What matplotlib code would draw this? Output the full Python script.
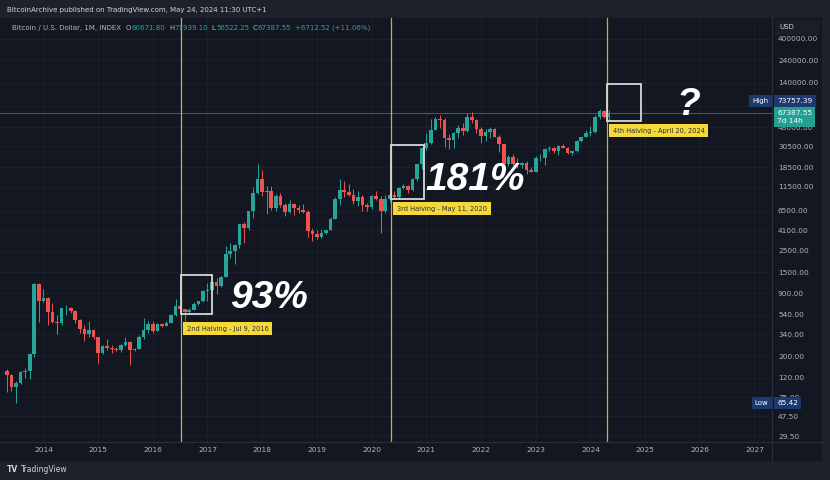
import matplotlib
matplotlib.use("Agg")
import matplotlib.pyplot as plt
import pandas as pd
from matplotlib.patches import Rectangle
from matplotlib.ticker import NullLocator
import matplotlib.transforms as mtransforms

# monthly BTC/USD candles, May 2013 .. May 2024
first_month = "2013-05-01"
opens = [
    139, 129, 97, 106, 136, 141, 211, 1130,
    754, 800, 573, 457, 448, 628, 640, 586, 478, 387, 338, 378,
    320, 217, 254, 244, 236, 230, 263, 284, 230, 236, 314, 378,
    430, 368, 437, 416, 448, 531, 673, 624, 573, 609, 700, 742,
    963, 970, 1190, 1080, 1348, 2300, 2480, 2875, 4700, 4340, 6450, 9950,
    13850, 10200, 10330, 6930, 9240, 7500, 6390, 7730, 7030, 6630, 6370, 4040,
    3740, 3440, 3820, 4100, 5320, 8570, 10820, 10080, 9590, 8290, 9150, 7540,
    7190, 9350, 8540, 6410, 8620, 9450, 9140, 11350, 11650, 10780, 13800, 19700,
    28990, 33100, 45200, 58800, 57700, 37300, 35040, 41460, 47100, 43800, 61300, 57000,
    46200, 38500, 43200, 45540, 37650, 31800, 19930, 23300, 20050, 19420, 20500, 17170,
    16540, 23130, 23150, 28470, 29250, 27220, 30480, 29230, 25930, 26970, 34660, 37720,
    42280, 42580, 61180, 71330, 60671.80,
]
highs = [
    147, 130, 111, 142, 152, 215, 1163, 1163,
    1000, 830, 710, 542, 630, 680, 650, 600, 490, 420, 460, 385,
    320, 265, 300, 265, 250, 270, 320, 285, 245, 330, 500, 465,
    460, 445, 440, 470, 550, 780, 700, 625, 630, 740, 755, 980,
    1160, 1200, 1300, 1350, 2770, 3000, 2920, 4740, 5000, 6470, 11400, 19700,
    17200, 11780, 11700, 9760, 10000, 7770, 8500, 7760, 7410, 7680, 6560, 4300,
    4100, 4200, 4140, 5600, 9100, 13880, 13200, 12320, 10950, 10540, 9510, 7750,
    9580, 10500, 9190, 9470, 10080, 10390, 11450, 12480, 12080, 14100, 19480, 29300,
    41950, 58350, 61780, 64860, 59600, 41300, 42400, 50500, 52920, 67000, 69000, 59000,
    47990, 45800, 48200, 47450, 40000, 31980, 24700, 25200, 22800, 21000, 21450, 18390,
    23950, 25250, 29200, 31000, 29850, 31400, 31800, 30200, 27500, 35200, 38400, 44700,
    48970, 64000, 73757.39, 72800, 71939.10,
]
lows = [
    85, 88, 65.42, 102, 120, 115, 196, 453,
    740, 420, 440, 340, 420, 540, 565, 445, 350, 285, 320, 300,
    170, 210, 235, 215, 228, 220, 255, 162, 226, 236, 300, 350,
    350, 365, 405, 410, 440, 520, 600, 470, 565, 605, 690, 740,
    750, 920, 890, 1060, 1340, 2100, 1830, 2670, 2980, 4110, 5500, 9700,
    9200, 6000, 6600, 6430, 7050, 5750, 6100, 5880, 6110, 6200, 3480, 3120,
    3350, 3370, 3730, 4080, 5320, 7440, 9070, 9330, 7710, 7300, 6530, 6430,
    6850, 8450, 3850, 6150, 8100, 8850, 8900, 10980, 9880, 10370, 13210, 17570,
    28130, 32300, 45000, 47000, 30000, 28800, 29300, 37330, 39600, 43300, 53300, 42000,
    32950, 34300, 37200, 37600, 26700, 17600, 18780, 19600, 18150, 18200, 15500, 16300,
    16500, 21400, 19550, 26950, 25800, 24800, 28900, 25400, 24920, 26560, 34100, 37600,
    38550, 41900, 59100, 59600, 56522.25,
]
closes = [
    129, 97, 106, 136, 141, 211, 1130, 754,
    800, 573, 457, 448, 628, 640, 586, 478, 387, 338, 378, 320,
    217, 254, 244, 236, 230, 263, 284, 230, 236, 314, 378, 430,
    368, 437, 416, 448, 531, 673, 624, 573, 609, 700, 742, 963,
    970, 1190, 1080, 1348, 2300, 2480, 2875, 4700, 4340, 6450, 9950, 13850,
    10200, 10330, 6930, 9240, 7500, 6390, 7730, 7030, 6630, 6370, 4040, 3740,
    3440, 3820, 4100, 5320, 8570, 10820, 10080, 9590, 8290, 9150, 7540, 7190,
    9350, 8540, 6410, 8620, 9450, 9140, 11350, 11650, 10780, 13800, 19700, 28990,
    33100, 45200, 58800, 57700, 37300, 35040, 41460, 47100, 43800, 61300, 57000, 46200,
    38500, 43200, 45540, 37650, 31800, 19930, 23300, 20050, 19420, 20500, 17170, 16540,
    23130, 23150, 28470, 29250, 27220, 30480, 29230, 25930, 26970, 34660, 37720, 42280,
    42580, 61180, 71330, 60675.03, 67387.55,
]

halving_dates = ["2016-07-09", "2020-05-11", "2024-04-20"]
halving_labels = ["2nd Halving - Jul 9, 2016", "3rd Halving - May 11, 2020",
                  "4th Halving - April 20, 2024"]
# white boxes after each halving: width (years), price range
box_widths = [0.57, 0.60, 0.62]
box_lows = [550, 8610, 55700]
box_highs = [1400, 31300, 135000]
label_drop = [-8.4, -4.8, -4.8]   # pt below the box

gain_texts = ["93%", "181%", "?"]
gain_x = [2017.41, 2020.975, 2025.58]
gain_y = [634, 10690, 64300]

price_ticks = [400000, 240000, 140000, 80000, 48000, 30500, 18500, 11500, 6500,
               4100, 2500, 1500, 900, 540, 340, 200, 120, 75, 47.5, 29.5]
years = list(range(2014, 2028))

UP = "#26a69a"
DOWN = "#ef5350"
BG = "#131722"
OUTER = "#1e212a"
TXT = "#b2b5be"
NAVY = "#1c3a70"
YEL = "#f5d83a"

dates = pd.date_range(first_month, periods=len(closes), freq="MS")
t = dates.year + (dates.month - 1) / 12


def frac_year(s):
    d = pd.Timestamp(s)
    return d.year + (d.dayofyear - 1) / 366


fig = plt.figure(figsize=(8.3, 4.8), dpi=100, facecolor=OUTER)
W, H = 830, 480
ax = fig.add_axes([0, 38 / H, 772 / W, 424 / H], facecolor=BG)

# axis strips
fig.patches.append(Rectangle((772 / W, 19 / H), 50 / W, 443 / H, transform=fig.transFigure,
                             fc=BG, ec="none", zorder=-1))
fig.patches.append(Rectangle((0, 19 / H), 822 / W, 19 / H, transform=fig.transFigure,
                             fc=BG, ec="none", zorder=-1))
fig.add_artist(plt.Line2D([772 / W, 772 / W], [19 / H, 462 / H], color="#2a2e39", lw=0.8))
fig.add_artist(plt.Line2D([0, 822 / W], [38 / H, 38 / H], color="#2a2e39", lw=0.8))

ax.set_yscale("log")
ax.set_xlim(2013.207, 2027.32)
ax.set_ylim(25.7, 656000)

colors = [UP if c >= o else DOWN for o, c in zip(opens, closes)]
body_lo = [min(o, c) for o, c in zip(opens, closes)]
body_h = [max(abs(c - o), 0.004 * o) for o, c in zip(opens, closes)]
ax.vlines(t, lows, highs, colors=colors, lw=0.7, zorder=3)
ax.bar(t, body_h, bottom=body_lo, width=0.8 / 12, color=colors, lw=0, zorder=3)

# current price line
ax.axhline(closes[-1], color="#1e8c80", lw=0.6, alpha=0.9, zorder=2)

for i, d in enumerate(halving_dates):
    hx = frac_year(d)
    ax.axvline(hx, color="#cdb232", lw=0.9, zorder=2.5)
    ax.add_patch(Rectangle((hx, box_lows[i]), box_widths[i], box_highs[i] - box_lows[i],
                           fill=False, ec="#d8d8d8", lw=1.3, zorder=4))
    ax.annotate(halving_labels[i], xy=(hx, box_lows[i]), xytext=(4.1, label_drop[i]),
                textcoords="offset points", ha="left", va="top", fontsize=4.8,
                color="#2a2e39", zorder=6,
                bbox=dict(boxstyle="square,pad=0.55", fc=YEL, ec="none"))

for s, x, y in zip(gain_texts, gain_x, gain_y):
    ax.text(x, y, s, fontsize=28, fontweight="bold", fontstyle="italic",
            family="Liberation Sans", color="white", ha="left", va="baseline", zorder=6)

# ticks
ax.yaxis.tick_right()
ax.set_yticks(price_ticks)
ax.set_yticklabels([f"{v:.2f}" for v in price_ticks])
ax.yaxis.set_minor_locator(NullLocator())
ax.set_xticks(years)
ax.set_xticklabels([str(y) for y in years])
ax.tick_params(axis="y", length=0, pad=4.3, labelsize=5.3, labelcolor=TXT)
ax.tick_params(axis="x", length=0, pad=3.3, labelsize=5.3, labelcolor=TXT)
ax.grid(True, color="#1d212d", lw=0.6, zorder=0)
ax.set_axisbelow(True)
for sp in ax.spines.values():
    sp.set_visible(False)

# price labels on the scale
yax = mtransforms.blended_transform_factory(ax.transAxes, ax.transData)
ax.annotate(f"{max(highs):.2f}", xy=(1, max(highs)), xycoords=yax, xytext=(3.6, 5.8),
            textcoords="offset points", ha="left", va="center", fontsize=5.3, color="white",
            zorder=7, annotation_clip=False,
            bbox=dict(boxstyle="square,pad=0.45", fc=NAVY, ec="none"))
ax.annotate("High", xy=(1, max(highs)), xycoords=yax, xytext=(-2.5, 5.8),
            textcoords="offset points", ha="right", va="center", fontsize=5, color="white",
            zorder=7, annotation_clip=False,
            bbox=dict(boxstyle="square,pad=0.45", fc=NAVY, ec="none"))
ax.annotate(f"{closes[-1]:.2f}\n7d 14h", xy=(1, closes[-1]), xycoords=yax, xytext=(3.6, -2.9),
            textcoords="offset points", ha="left", va="center", fontsize=5.3, color="white",
            linespacing=1.25, zorder=7, annotation_clip=False,
            bbox=dict(boxstyle="square,pad=0.45", fc="#22a192", ec="none"))
ax.annotate(f"{min(lows):.2f}", xy=(1, min(lows)), xycoords=yax, xytext=(3.6, 0),
            textcoords="offset points", ha="left", va="center", fontsize=5.3, color="white",
            zorder=7, annotation_clip=False,
            bbox=dict(boxstyle="square,pad=0.45", fc=NAVY, ec="none"))
ax.annotate("Low", xy=(1, min(lows)), xycoords=yax, xytext=(-2.5, 0),
            textcoords="offset points", ha="right", va="center", fontsize=5, color="white",
            zorder=7, annotation_clip=False,
            bbox=dict(boxstyle="square,pad=0.45", fc=NAVY, ec="none"))

# USD box on top of the price scale
fig.patches.append(Rectangle((775 / W, 1 - 35 / H), 45 / W, 15 / H, transform=fig.transFigure,
                             fc="#1a1e29", ec="none", zorder=3))
fig.text(779 / W, 1 - 27 / H, "USD", fontsize=5, color="#d1d4dc", va="center", zorder=4)

# header and legend
fig.text(7 / W, 1 - 10 / H, "BitcoinArchive published on TradingView.com, May 24, 2024 11:30 UTC+1",
         fontsize=5, color="#d1d4dc", va="center")

prev_c = closes[-2]
chg = closes[-1] - prev_c
pieces = [
    ("Bitcoin / U.S. Dollar, 1M, INDEX", TXT, 0),
    ("O", TXT, 3.5), (f"{opens[-1]:.2f}", UP, 0.3),
    ("H", TXT, 2.5), (f"{highs[-1]:.2f}", UP, 0.3),
    ("L", TXT, 2.5), (f"{lows[-1]:.2f}", UP, 0.3),
    ("C", TXT, 2.5), (f"{closes[-1]:.2f}", UP, 0.3),
    (f"{chg:+.2f} ({chg / prev_c * 100:+.2f}%)", UP, 2.5),
]
prev = fig.text(12 / W, 1 - 31 / H, pieces[0][0], fontsize=5, color=pieces[0][1], va="bottom")
for s, c, gap in pieces[1:]:
    prev = ax.annotate(s, xy=(1, 0), xycoords=prev, xytext=(gap, 0), textcoords="offset points",
                       fontsize=5, color=c, va="bottom", ha="left", annotation_clip=False)

# logo
fig.text(7 / W, 1 - 470 / H, "TV", fontsize=5.5, fontweight="bold", color="#d1d4dc", va="center")
fig.text(21 / W, 1 - 470 / H, "TradingView", fontsize=5.5, color="#d1d4dc", va="center")

fig.savefig("out.png", dpi=100, facecolor=OUTER)
